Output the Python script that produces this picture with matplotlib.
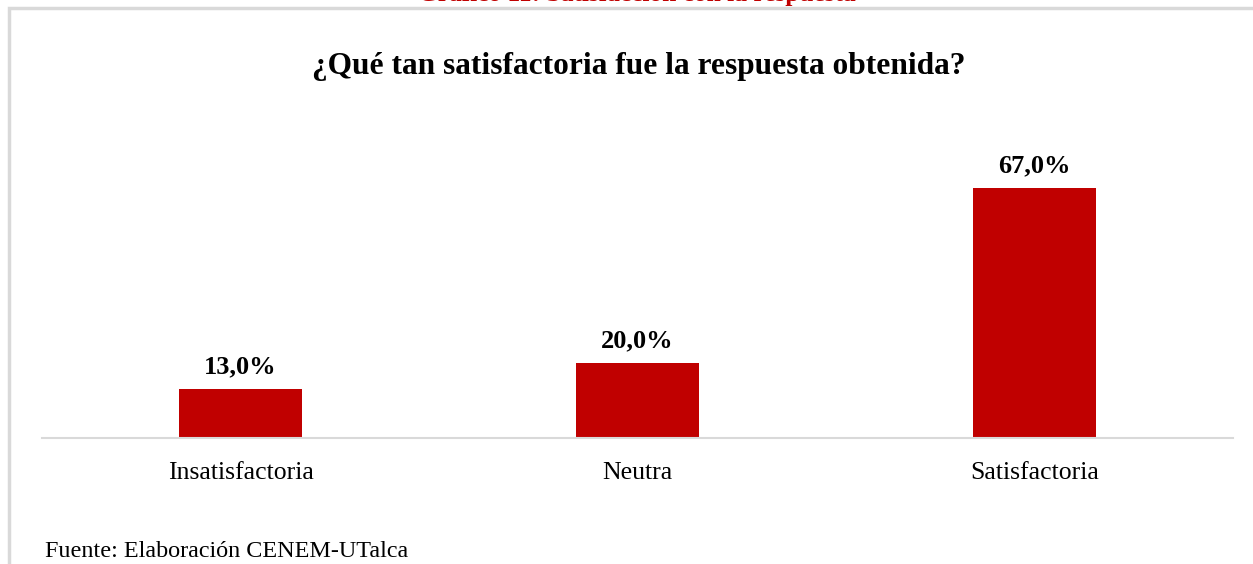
import matplotlib.pyplot as plt
from matplotlib.patches import Rectangle

# datos del grafico
categorias = ["Insatisfactoria", "Neutra", "Satisfactoria"]
porcentajes = [13.0, 20.0, 67.0]
etiquetas = ["13,0%", "20,0%", "67,0%"]

rojo = "#C00000"
serif = ["Liberation Serif", "DejaVu Serif"]

fig = plt.figure(figsize=(12.53, 5.64), dpi=100)

# marco gris del grafico (sin borde inferior ni derecho visibles)
fig.patches.append(Rectangle((9 / 1253, -0.2), 1.1, 1.2 - 8 / 564, transform=fig.transFigure,
                             fill=False, edgecolor="#D9D9D9", linewidth=2.5))

# caption cortado arriba
fig.text(0.508, 1.0 - 1 / 564, "Gráfico 11: Satisfacción con la respuesta", color=rojo,
         fontsize=18.3, fontweight="bold", family=serif, ha="center", va="baseline")

ax = fig.add_axes([42 / 1253, (564 - 438) / 564, 1191 / 1253, 308 / 564])
x = range(len(categorias))
ax.bar(x, porcentajes, width=0.312, color=rojo)
ax.set_xlim(-0.5, 2.5)
ax.set_ylim(0, 82.55)

for i, v in enumerate(porcentajes):
    ax.annotate(etiquetas[i], (i, v), xytext=(0, 11.5), textcoords="offset points",
                ha="center", va="baseline", fontsize=19, fontweight="bold", family=serif)

for s in ["top", "right", "left"]:
    ax.spines[s].set_visible(False)
ax.spines["bottom"].set_color("#D9D9D9")
ax.spines["bottom"].set_linewidth(1.5)
ax.set_yticks([])
ax.set_xticks(list(x))
ax.set_xticklabels(categorias, family=serif, fontsize=18.5)
ax.tick_params(axis="x", length=0, pad=17)

fig.text(0.51, 1 - 74 / 564, "¿Qué tan satisfactoria fue la respuesta obtenida?",
         ha="center", va="baseline", fontsize=22.6, fontweight="bold", family=serif)

fig.text(45 / 1253, 1 - 557 / 564, "Fuente: Elaboración CENEM-UTalca", family=serif,
         fontsize=17.4, ha="left", va="baseline")

fig.savefig("out.png", dpi=100)
